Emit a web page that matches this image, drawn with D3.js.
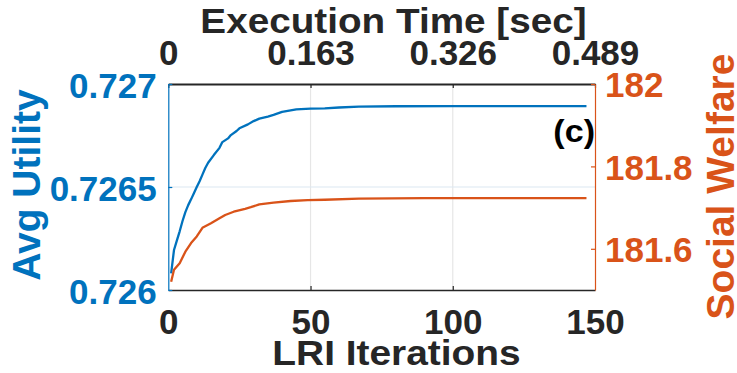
<!DOCTYPE html>
<html>
<head>
<meta charset="utf-8">
<script src="https://cdn.jsdelivr.net/npm/d3@7"></script>
<style>
  html, body { margin: 0; padding: 0; background: #fff; }
  svg { display: block; }
  text { font-family: "Liberation Sans", Arial, Helvetica, sans-serif; font-weight: bold; }
</style>
</head>
<body>
<svg id="chart" width="737" height="373"></svg>
<script>
// LRI convergence: average utility (left axis) and social welfare (right axis)
const iterations   = [1, 2, 3, 4, 5, 6, 7, 8, 9, 10, 11, 12, 13, 14, 16, 18, 19, 21, 22, 24, 25, 28, 30, 32, 35, 37, 40, 43, 45, 50, 55, 60, 67, 80, 100, 120, 147];
const avgUtility   = [0.726081, 0.726194, 0.726240, 0.726285, 0.726335, 0.726378, 0.726412, 0.726440, 0.726470, 0.726500, 0.726528, 0.726560, 0.726592, 0.726618, 0.726655, 0.726690, 0.726718, 0.726736, 0.726752, 0.726772, 0.726785, 0.726804, 0.726820, 0.726832, 0.726842, 0.726850, 0.726865, 0.726872, 0.726877, 0.726880, 0.726882, 0.726886, 0.726890, 0.726892, 0.726893, 0.726893, 0.726893];
const swIterations = [1, 2, 4, 6, 8, 10, 12, 15, 18, 20, 23, 27, 29, 32, 37, 43, 49, 55, 67, 90, 147];
const socialWelfare = [181.520, 181.549, 181.565, 181.593, 181.614, 181.630, 181.651, 181.662, 181.674, 181.682, 181.690, 181.697, 181.701, 181.708, 181.712, 181.716, 181.718, 181.719, 181.722, 181.723, 181.723];

const iterTicks   = [0, 50, 100, 150];
const timeTicks   = [0, 0.163, 0.326, 0.489];
const timeLabels  = ["0", "0.163", "0.326", "0.489"];
const utilTicks   = [0.726, 0.7265, 0.727];
const utilLabels  = ["0.726", "0.7265", "0.727"];
const swTicks     = [181.6, 181.8, 182];
const swLabels    = ["181.6", "181.8", "182"];

const BLUE = "#0072BD", ORANGE = "#D95319", INK = "#262626";

const plot = { left: 168.3, right: 595, top: 84, bottom: 290 };

const x  = d3.scaleLinear().domain([0, 150]).range([plot.left, plot.right]);
const xT = d3.scaleLinear().domain([0, 0.489]).range([plot.left, plot.right]);
const yL = d3.scaleLinear().domain([0.726, 0.727]).range([plot.bottom, plot.top]);
const yR = d3.scaleLinear().domain([181.5, 182]).range([plot.bottom, plot.top]);

const svg = d3.select("#chart");

// grid
const grid = svg.append("g");
grid.selectAll("line.vx").data(iterTicks.slice(1, -1)).join("line")
  .attr("x1", d => x(d)).attr("x2", d => x(d))
  .attr("y1", plot.top).attr("y2", plot.bottom)
  .attr("stroke", "#e6e6e6").attr("stroke-width", 1.2);
grid.selectAll("line.hy").data(utilTicks.slice(1, -1)).join("line")
  .attr("x1", plot.left).attr("x2", plot.right)
  .attr("y1", d => yL(d)).attr("y2", d => yL(d))
  .attr("stroke", "#dbe7f2").attr("stroke-width", 1.2);

// series
svg.append("path")
  .datum(iterations.map((it, i) => [it, avgUtility[i]]))
  .attr("fill", "none").attr("stroke", BLUE).attr("stroke-width", 2.3)
  .attr("stroke-linejoin", "round")
  .attr("d", d3.line().x(d => x(d[0])).y(d => yL(d[1])));

svg.append("path")
  .datum(swIterations.map((it, i) => [it, socialWelfare[i]]))
  .attr("fill", "none").attr("stroke", ORANGE).attr("stroke-width", 2.3)
  .attr("stroke-linejoin", "round")
  .attr("d", d3.line().x(d => x(d[0])).y(d => yR(d[1])));

function styleAxis(g, color, width) {
  g.select(".domain").attr("stroke", color).attr("stroke-width", width);
  g.selectAll(".tick line").attr("stroke", color).attr("stroke-width", 1.2);
  g.selectAll(".tick text").attr("fill", color).attr("font-size", 35)
    .attr("font-family", null);
}

// bottom axis: LRI iterations
const gB = svg.append("g").attr("transform", `translate(0,${plot.bottom})`)
  .call(d3.axisBottom(x).tickValues(iterTicks).tickSizeInner(-4).tickSizeOuter(0));
styleAxis(gB, INK, 1.5);
gB.selectAll(".tick text").attr("y", 43.5).attr("dy", 0);
gB.selectAll(".tick").filter(d => d === 0 || d === 150).select("line").remove();

// top axis: execution time
const gT = svg.append("g").attr("transform", `translate(0,${plot.top})`)
  .call(d3.axisTop(xT).tickValues(timeTicks).tickFormat((d, i) => timeLabels[i])
    .tickSizeInner(-4).tickSizeOuter(0));
styleAxis(gT, INK, 1.8);
gT.selectAll(".tick text").attr("y", -19.5).attr("dy", 0);

// left axis: avg utility
const gL = svg.append("g").attr("transform", `translate(${plot.left},0)`)
  .call(d3.axisLeft(yL).tickValues(utilTicks).tickFormat((d, i) => utilLabels[i])
    .tickSizeInner(-4).tickSizeOuter(0));
styleAxis(gL, BLUE, 1.2);
gL.selectAll(".tick text").attr("x", -11.6).attr("dy", "0.38em");

// right axis: social welfare
const gR = svg.append("g").attr("transform", `translate(${plot.right},0)`)
  .call(d3.axisRight(yR).tickValues(swTicks).tickFormat((d, i) => swLabels[i])
    .tickSizeInner(-4).tickSizeOuter(0));
styleAxis(gR, ORANGE, 1.2);
gR.selectAll(".tick text").attr("x", 10).attr("dy", "0.37em");

// axis titles
svg.append("text")
  .attr("transform", "translate(393.5,32.5) scale(1.075,1)")
  .attr("text-anchor", "middle").attr("fill", INK).attr("font-size", 36)
  .text("Execution Time [sec]");

svg.append("text")
  .attr("transform", "translate(396.5,365) scale(1.08,1)")
  .attr("text-anchor", "middle").attr("fill", INK).attr("font-size", 36)
  .text("LRI Iterations");

svg.append("text")
  .attr("transform", "translate(40,185) rotate(-90)")
  .attr("text-anchor", "middle").attr("fill", BLUE).attr("font-size", 39)
  .text("Avg Utility");

svg.append("text")
  .attr("transform", "translate(734,186.5) rotate(-90)")
  .attr("text-anchor", "middle").attr("fill", ORANGE).attr("font-size", 39)
  .text("Social Welfare");

// panel tag
svg.append("text")
  .attr("transform", "translate(595,142) scale(1.1,1)")
  .attr("text-anchor", "end").attr("fill", "#000").attr("font-size", 31)
  .text("(c)");
</script>
</body>
</html>
